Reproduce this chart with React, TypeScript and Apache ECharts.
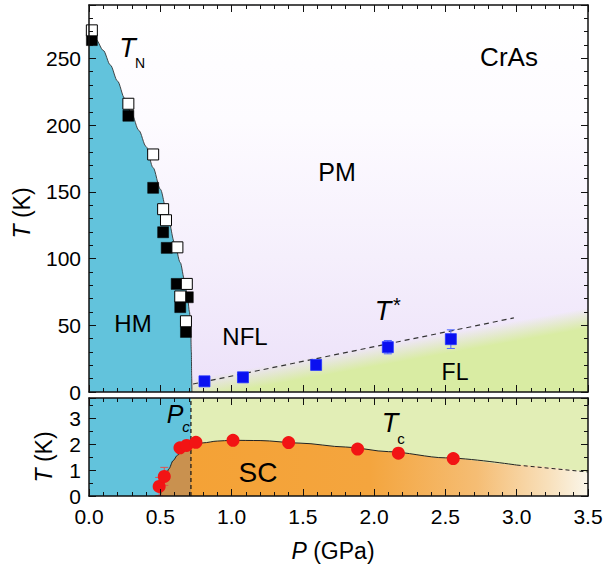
import React, { useEffect, useRef } from 'react';
import * as echarts from 'echarts';

// ---- axis ranges ----
const X_MIN = 0;
const X_MAX = 3.5;
const T_TOP_MAX = 290;
const T_BOT_MAX = 3.8;
const P_C = 0.715;

// ---- top panel data ----
const TN_FILLED: [number, number][] = [
  [0.02, 263.7], [0.276, 207], [0.45, 153], [0.52, 119.7], [0.545, 108],
  [0.615, 81], [0.693, 71], [0.64, 63.6], [0.68, 45],
];
const TN_OPEN: [number, number][] = [
  [0.02, 271], [0.276, 216], [0.45, 178], [0.52, 137], [0.54, 128.7],
  [0.62, 108.4], [0.686, 81], [0.64, 71.6], [0.68, 53],
];
const TN_CURVE_P = [0, 0.05, 0.1, 0.15, 0.2, 0.25, 0.3, 0.35, 0.4, 0.45, 0.5, 0.55, 0.6, 0.64, 0.67, 0.69, 0.705, 0.713, 0.718, 0.72, 0.722];
const TN_CURVE_T = [272, 264, 256, 245, 233, 220, 208, 196, 184, 168, 152, 133, 112, 97, 84, 72, 60, 48, 30, 12, 0];

const TSTAR_P = [0.81, 1.08, 1.593, 2.096, 2.538];
const TSTAR_T = [8, 11, 20.3, 33.6, 39.6];
const TSTAR_ERR = [0, 0, 0, 5, 7];
const TSTAR_LINE: [number, number][] = [[0.73, 6], [2.98, 55.5]];
const FL_EDGE: [number, number][] = [[0.72, 10], [3.5, 63]];

// ---- bottom panel data ----
const TC_P = [0.492, 0.528, 0.638, 0.685, 0.75, 1.01, 1.40, 1.884, 2.17, 2.555];
const TC_T = [0.37, 0.76, 1.87, 1.96, 2.08, 2.16, 2.07, 1.82, 1.66, 1.45];
const TC_ERR = [0.35, 0.35, 0, 0, 0, 0, 0, 0, 0, 0];
const TC_CURVE_P = [0.5, 0.52, 0.54, 0.56, 0.59, 0.62, 0.66, 0.715, 0.8, 0.9, 1.0, 1.2, 1.48, 1.8, 2.1, 2.5, 3.0, 3.5];
const TC_CURVE_T = [0, 0.45, 0.8, 1.05, 1.37, 1.58, 1.76, 1.93, 2.06, 2.13, 2.16, 2.15, 2.05, 1.9, 1.72, 1.48, 1.2, 0.93];
const TC_DASH_FROM = 3.0;

// ---- colors / fonts ----
const FONT = "'Liberation Sans', Arial, sans-serif";
const BLUE = '#62c3dc';
const GREEN_TOP = '217,236,163';
const GREEN_BOT = '#e2eeb6';
const ORANGE = '#f4a236';
const BROWN = '#c9914f';
const AXIS_COLOR = '#111';

function makeX(gridIndex: number, position: 'top' | 'bottom', labels: boolean) {
  return {
    type: 'value', gridIndex, position, min: X_MIN, max: X_MAX, interval: 0.5, z: 10,
    axisLine: { show: true, onZero: false, lineStyle: { color: AXIS_COLOR, width: 1.5 } },
    axisTick: { show: true, inside: true, length: 7, lineStyle: { color: AXIS_COLOR, width: 1 } },
    minorTick: { show: true, splitNumber: 5, length: 4, lineStyle: { color: AXIS_COLOR, width: 1 } },
    splitLine: { show: false },
    minorSplitLine: { show: false },
    axisLabel: labels
      ? { show: true, margin: 10, fontSize: 21, color: '#000', fontFamily: FONT, formatter: (v: number) => v.toFixed(1) }
      : { show: false },
  };
}

function makeY(gridIndex: number, position: 'left' | 'right', max: number, interval: number, major: boolean, labelStep: number | null) {
  return {
    type: 'value', gridIndex, position, min: 0, max, interval, z: 10,
    axisLine: { show: !major, onZero: false, lineStyle: { color: AXIS_COLOR, width: 1.5 } },
    axisTick: { show: true, inside: true, length: major ? 7 : 4, lineStyle: { color: AXIS_COLOR, width: 1 } },
    splitLine: { show: false },
    axisLabel: labelStep !== null
      ? {
          show: true, margin: 8, fontSize: 21, color: '#000', fontFamily: FONT,
          formatter: (v: number) => (Math.abs(v / labelStep - Math.round(v / labelStep)) < 1e-6 ? String(Math.round(v)) : ''),
        }
      : { show: false },
  };
}

function zip(a: number[], b: number[]) {
  return a.map((v, i) => [v, b[i]]);
}

function errorBarSeries(xAxisIndex: number, yAxisIndex: number, P: number[], T: number[], E: number[], color: string) {
  const data = P.map((p, i) => [p, T[i], E[i]]).filter((d) => d[2] > 0);
  return {
    type: 'custom', xAxisIndex, yAxisIndex, clip: true, silent: true, z: 4,
    data,
    renderItem: (params: any, api: any) => {
      const p = api.value(0), t = api.value(1), e = api.value(2);
      const lo = api.coord([p, t - e]);
      const hi = api.coord([p, t + e]);
      const cap = 4;
      const style = { stroke: color, lineWidth: 1 };
      return {
        type: 'group',
        children: [
          { type: 'line', shape: { x1: lo[0], y1: lo[1], x2: hi[0], y2: hi[1] }, style },
          { type: 'line', shape: { x1: lo[0] - cap, y1: lo[1], x2: lo[0] + cap, y2: lo[1] }, style },
          { type: 'line', shape: { x1: hi[0] - cap, y1: hi[1], x2: hi[0] + cap, y2: hi[1] }, style },
        ],
      };
    },
  };
}

function txt(x: number, y: number, text: string, size: number, italic = false, extra: any = {}) {
  return {
    type: 'text', x, y, z: 100, silent: true,
    style: {
      text, fontSize: size, fontFamily: FONT, fontStyle: italic ? 'italic' : 'normal',
      fill: '#000', align: 'center', verticalAlign: 'middle', ...extra,
    },
  };
}

function richTxt(x: number, y: number, text: string, size: number, rotation = 0) {
  return {
    type: 'text', x, y, z: 100, rotation, silent: true,
    style: {
      text, fontSize: size, fontFamily: FONT, fill: '#000', align: 'center', verticalAlign: 'middle',
      rich: { i: { fontStyle: 'italic', fontSize: size, fontFamily: FONT, fill: '#000' } },
    },
  };
}

export default function App() {
  const ref = useRef<HTMLDivElement>(null);

  useEffect(() => {
    if (!ref.current) return;
    const chart = echarts.init(ref.current, null, { renderer: 'svg' });

    const tnCurve = zip(TN_CURVE_P, TN_CURVE_T);
    const tcCurve = zip(TC_CURVE_P, TC_CURVE_T);
    const tcLeft = tcCurve.filter((d) => d[0] <= P_C + 1e-9);
    const tcRight = tcCurve.filter((d) => d[0] >= P_C - 1e-9);
    const tcSolid = tcRight.filter((d) => d[0] <= TC_DASH_FROM + 1e-9);
    const tcDash = tcRight.filter((d) => d[0] >= TC_DASH_FROM - 1e-9);

    const option: any = {
      animation: false,
      backgroundColor: '#fff',
      grid: [
        {
          left: 89, right: 18, top: 5, height: 387, show: true, borderWidth: 0,
          backgroundColor: new echarts.graphic.LinearGradient(0, 0, 0, 1, [
            { offset: 0, color: '#ffffff' },
            { offset: 0.3, color: '#fdfbff' },
            { offset: 0.65, color: '#f5effc' },
            { offset: 1, color: '#ece1f9' },
          ]),
        },
        { left: 89, right: 18, top: 398, height: 98, show: false },
      ],
      xAxis: [
        makeX(0, 'bottom', false),
        makeX(0, 'top', false),
        makeX(1, 'bottom', true),
        makeX(1, 'top', false),
      ],
      yAxis: [
        makeY(0, 'left', T_TOP_MAX, 10, false, 50),
        makeY(0, 'left', T_TOP_MAX, 50, true, null),
        makeY(0, 'right', T_TOP_MAX, 10, false, null),
        makeY(0, 'right', T_TOP_MAX, 50, true, null),
        makeY(1, 'left', T_BOT_MAX, 0.5, false, 1),
        makeY(1, 'left', T_BOT_MAX, 1, true, null),
        makeY(1, 'right', T_BOT_MAX, 0.5, false, null),
        makeY(1, 'right', T_BOT_MAX, 1, true, null),
      ],
      series: [
        // FL region (top)
        {
          type: 'custom', xAxisIndex: 0, yAxisIndex: 0, silent: true, clip: true, z: 1,
          data: [[FL_EDGE[0][0], FL_EDGE[0][1]]],
          renderItem: (params: any, api: any) => {
            const a = api.coord(FL_EDGE[0]);
            const b = api.coord(FL_EDGE[1]);
            const b0 = api.coord([FL_EDGE[0][0], 0]);
            const b1 = api.coord([FL_EDGE[1][0], 0]);
            const dx = b[0] - a[0], dy = b[1] - a[1];
            const len = Math.hypot(dx, dy);
            const nx = -dy / len, ny = dx / len;
            const fade = 20;
            return {
              type: 'polygon',
              shape: { points: [b0, a, b, b1] },
              style: {
                fill: new echarts.graphic.LinearGradient(a[0], a[1], a[0] + nx * fade, a[1] + ny * fade, [
                  { offset: 0, color: `rgba(${GREEN_TOP},0)` },
                  { offset: 1, color: `rgba(${GREEN_TOP},1)` },
                ], true),
              },
            };
          },
        },
        // HM region
        {
          type: 'line', xAxisIndex: 0, yAxisIndex: 0, data: tnCurve, symbol: 'none', z: 2,
          smooth: 0.3, smoothMonotone: 'x',
          lineStyle: { color: '#333', width: 0.9 },
          areaStyle: { color: BLUE, opacity: 1 },
          silent: true,
        },
        // T* dashed line
        {
          type: 'line', xAxisIndex: 0, yAxisIndex: 0, data: TSTAR_LINE, symbol: 'none', z: 3,
          lineStyle: { color: '#333', width: 1.2, type: [5, 4] }, silent: true,
        },
        errorBarSeries(0, 0, TSTAR_P, TSTAR_T, TSTAR_ERR, '#4f68ff'),
        {
          type: 'scatter', xAxisIndex: 0, yAxisIndex: 0, data: TN_FILLED, symbol: 'rect', symbolSize: 11, z: 5,
          itemStyle: { color: '#000', borderColor: '#000', borderWidth: 0.5, opacity: 1 }, silent: true,
        },
        {
          type: 'scatter', xAxisIndex: 0, yAxisIndex: 0, data: TN_OPEN, symbol: 'rect', symbolSize: 11, z: 6,
          itemStyle: { color: '#fff', borderColor: '#000', borderWidth: 1, opacity: 1 }, silent: true,
        },
        {
          type: 'scatter', xAxisIndex: 0, yAxisIndex: 0, data: zip(TSTAR_P, TSTAR_T), symbol: 'rect', symbolSize: 11, z: 6,
          itemStyle: { color: '#0a10f0', borderColor: '#2233ff', borderWidth: 0.8, opacity: 1 }, silent: true,
        },
        // bottom background
        {
          type: 'custom', xAxisIndex: 2, yAxisIndex: 4, silent: true, z: 1,
          data: [[X_MIN, P_C], [P_C, X_MAX]],
          renderItem: (params: any, api: any) => {
            const p0 = api.coord([api.value(0), T_BOT_MAX]);
            const p1 = api.coord([api.value(1), 0]);
            return {
              type: 'rect',
              shape: { x: p0[0], y: p0[1], width: p1[0] - p0[0], height: p1[1] - p0[1] },
              style: { fill: params.dataIndex === 0 ? BLUE : GREEN_BOT },
            };
          },
        },
        // SC left (overlap with HM)
        {
          type: 'line', xAxisIndex: 2, yAxisIndex: 4, data: tcLeft, symbol: 'none', smooth: 0.3, smoothMonotone: 'x', z: 2,
          lineStyle: { color: '#222', width: 1 }, areaStyle: { color: BROWN, opacity: 1 }, silent: true,
        },
        // SC right
        {
          type: 'line', xAxisIndex: 2, yAxisIndex: 4, data: tcRight, symbol: 'none', smooth: 0.3, smoothMonotone: 'x', z: 2,
          lineStyle: { width: 0, opacity: 0 },
          areaStyle: {
            opacity: 1,
            color: new echarts.graphic.LinearGradient(0, 0, 1, 0, [
              { offset: 0, color: ORANGE },
              { offset: 0.45, color: '#f4a53e' },
              { offset: 0.72, color: '#f5bd74' },
              { offset: 0.9, color: '#f8e0bb' },
              { offset: 1, color: '#faf6ea' },
            ]),
          },
          silent: true,
        },
        {
          type: 'line', xAxisIndex: 2, yAxisIndex: 4, data: tcSolid, symbol: 'none', smooth: 0.3, smoothMonotone: 'x', z: 3,
          lineStyle: { color: '#222', width: 1 }, silent: true,
        },
        {
          type: 'line', xAxisIndex: 2, yAxisIndex: 4, data: tcDash, symbol: 'none', z: 3,
          lineStyle: { color: '#222', width: 1, type: [4, 3] }, silent: true,
        },
        // Pc line
        {
          type: 'line', xAxisIndex: 2, yAxisIndex: 4, data: [[P_C, 0], [P_C, T_BOT_MAX]], symbol: 'none', z: 3,
          lineStyle: { color: '#111', width: 1.2, type: [4, 3] }, silent: true,
        },
        errorBarSeries(2, 4, TC_P, TC_T, TC_ERR, '#e2504f'),
        {
          type: 'scatter', xAxisIndex: 2, yAxisIndex: 4, data: zip(TC_P, TC_T), symbol: 'circle', symbolSize: 13, z: 6,
          itemStyle: { color: '#f21414', opacity: 1 }, silent: true,
        },
      ],
      graphic: [
        txt(127.5, 47.5, 'T', 27, true),
        txt(140, 63, 'N', 14),
        txt(509, 57, 'CrAs', 26),
        txt(337, 172, 'PM', 25),
        txt(133, 323, 'HM', 24),
        txt(245, 336, 'NFL', 24),
        txt(383, 311, 'T', 27, true),
        txt(397, 305, '*', 20),
        txt(455, 372, 'FL', 23),
        txt(175, 414, 'P', 25, true),
        txt(186, 426, 'c', 15, true),
        txt(390, 422.5, 'T', 27, true),
        txt(401, 438, 'c', 15),
        txt(258, 472, 'SC', 28),
        richTxt(22, 213, '{i|T} (K)', 23, Math.PI / 2),
        richTxt(44, 457, '{i|T} (K)', 23, Math.PI / 2),
        richTxt(333, 551, '{i|P} (GPa)', 23),
      ],
    };

    chart.setOption(option);
    return () => chart.dispose();
  }, []);

  return <div ref={ref} style={{ position: 'fixed', left: 0, top: 0, width: 606, height: 567 }} />;
}
